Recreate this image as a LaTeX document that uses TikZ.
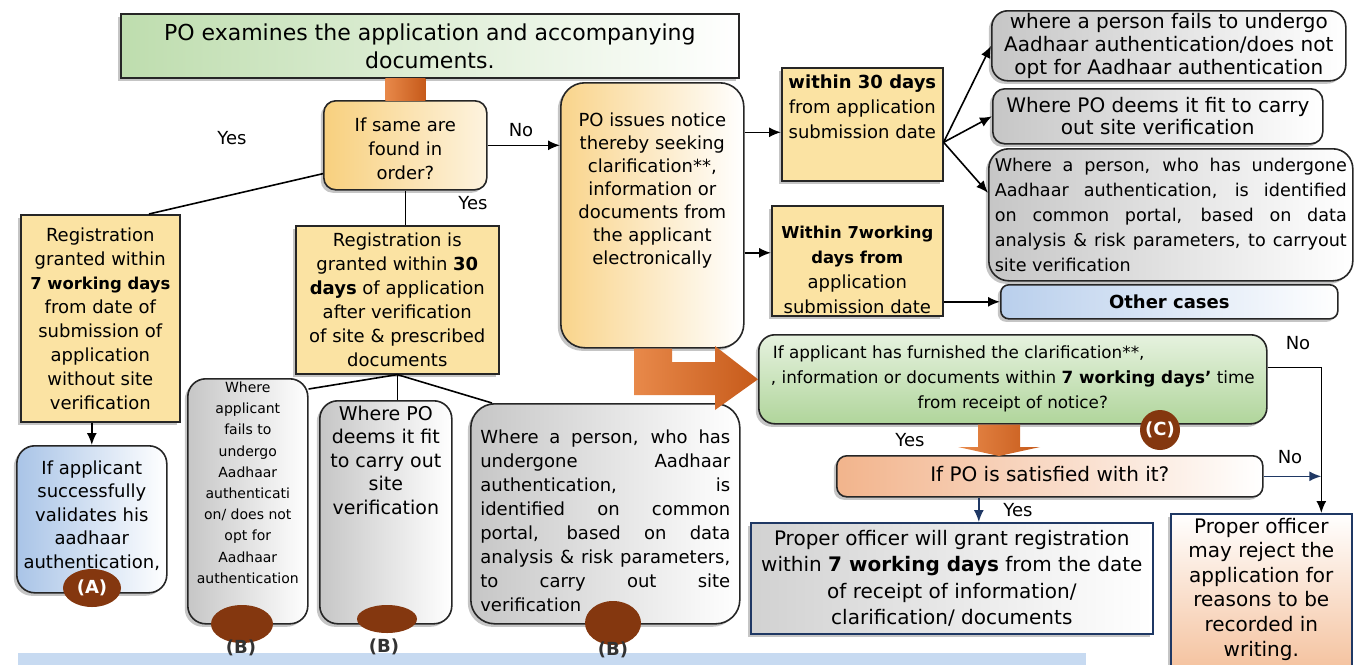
\documentclass[tikz,border=0pt]{standalone}
\usepackage{fontspec}
\setmainfont{DejaVu Sans}
\usetikzlibrary{arrows.meta, positioning, shapes.geometric, shadows}
\definecolor{boxyellow}{HTML}{FBE3A3}
\definecolor{poorange}{HTML}{F9D48B}
\definecolor{ifyellow}{HTML}{F8D07E}
\definecolor{titlegreen}{HTML}{BEDDAE}
\definecolor{greentop}{HTML}{E6F2DF}
\definecolor{greenbot}{HTML}{B0D59B}
\definecolor{valblue}{HTML}{A9C4E7}
\definecolor{otherblue}{HTML}{B9CFEC}
\definecolor{satpeach}{HTML}{F2B48C}
\definecolor{rejpeach}{HTML}{F4BE98}
\definecolor{boxgray}{HTML}{C6C6C6}
\definecolor{blobbrown}{HTML}{84370F}
\definecolor{blkorange}{HTML}{E8894A}
\definecolor{blkdark}{HTML}{C65A1A}
\definecolor{barblue}{HTML}{C7DAF1}
\definecolor{navy}{HTML}{1F3864}

% top aligned text: width, height, top pad, text
\newcommand{\tb}[4]{\parbox[c][#2][t]{#1}{\centering\vspace*{#3}#4}}
\newcommand{\bt}[1]{\textbf{#1}}
\newcommand{\bts}[1]{{\bfseries\fontsize{8.2}{12}\selectfont #1}}
\newcommand{\js}[1]{\makebox[\linewidth][s]{#1}}

\begin{document}
\begin{tikzpicture}[x=0.5pt, y=-0.5pt,
  box/.style={draw=black!85, line width=0.8pt, inner sep=0pt, anchor=north west, align=center,
    font=\fontsize{9}{12}\selectfont,
    drop shadow={shadow xshift=-1.5pt, shadow yshift=-1.5pt, fill=black!45}},
  rbox/.style={box, rounded corners=#1}, rbox/.default=8pt,
  yel/.style={fill=boxyellow},
  grayshade/.style={left color=boxgray, right color=white},
  conn/.style={line width=0.8pt},
  arr/.style={conn, -{Latex[length=6pt, width=5pt]}},
  bluearr/.style={conn, draw=navy, -{Latex[length=6pt, width=5pt]}},
  blk/.style={left color=blkorange, right color=blkdark},
  blob/.style={ellipse, fill=blobbrown, inner sep=0pt, text=white, font=\bfseries\fontsize{9}{10}\selectfont},
  tag/.style={font=\bfseries\fontsize{9}{10}\selectfont, text=black!80},
  yn/.style={font=\fontsize{9}{10}\selectfont}
]
\useasboundingbox (0,0) rectangle (1363,664);

\fill[barblue] (18,653) rectangle (1086,700); % bottom band

% top row
\node[box, left color=titlegreen, right color=white, minimum width=309pt, minimum height=32pt,
  font=\fontsize{11}{14}\selectfont] (title) at (120,13)
  {PO examines the application and accompanying\\documents.};
\node[rbox=6pt, left color=ifyellow, right color=ifyellow!25, font=\fontsize{9}{12}\selectfont] (ifsame) at (323,100)
  {\tb{81.5pt}{44.5pt}{8.5pt}{If same are\\found in\\order?}};
\node[rbox=12pt, left color=poorange, right color=white, font=\fontsize{9}{11.5}\selectfont] (po) at (560,82)
  {\tb{91.5pt}{132.5pt}{15pt}{PO issues notice\\thereby seeking\\clarification**,\\information or\\documents from\\the applicant\\electronically}};
\node[box, yel, font=\fontsize{9}{12.5}\selectfont] (w30) at (781,67)
  {\tb{80.5pt}{56.5pt}{3.5pt}{\bt{within 30 days}\\from application\\submission date}};
\node[box, yel, font=\fontsize{9}{12.5}\selectfont] (w7) at (771,205)
  {\tb{85.5pt}{55pt}{10pt}{\bts{Within 7working}\\\bts{days from}\\application\\submission date}};

% right column
\node[rbox=8pt, grayshade, minimum width=177pt, minimum height=35pt, font=\fontsize{10}{11.5}\selectfont] (gray1) at (991,10)
  {where a person fails to undergo\\Aadhaar authentication/does not\\opt for Aadhaar authentication};
\node[rbox=6pt, grayshade, minimum width=165pt, minimum height=27.5pt, font=\fontsize{10}{11}\selectfont] (gray2) at (992,88)
  {Where PO deems it fit to carry\\out site verification};
\node[rbox=10pt, grayshade, minimum width=182pt, minimum height=66pt] (gray3) at (988,148)
  {\parbox{176pt}{\fontsize{8.8}{12.5}\selectfont
   \js{Where a person, who has undergone}\\
   \js{Aadhaar authentication, is identified}\\
   \js{on common portal, based on data}\\
   \js{analysis \& risk parameters, to carryout}\\
   site verification}};
\node[rbox=4pt, left color=otherblue, right color=white, minimum width=168.5pt, minimum height=17pt,
  font=\bfseries\fontsize{9}{11}\selectfont] (other) at (1000,284) {Other cases};

% left column
\node[box, yel, minimum width=79.5pt, minimum height=103.5pt] (regA) at (20,214)
  {Registration\\granted within\\\bts{7 working days}\\from date of\\submission of\\application\\without site\\verification};
\node[rbox=9pt, left color=valblue, right color=white, font=\fontsize{9}{11.75}\selectfont] (valA) at (16,445)
  {\tb{75pt}{73.5pt}{7.5pt}{If applicant\\successfully\\validates his\\aadhaar\\authentication,}};
\node[box, yel, minimum width=101.5pt, minimum height=74pt] (regB) at (295,225)
  {Registration is\\granted within \bt{30}\\\bt{days} of application\\after verification\\of site \& prescribed\\documents};
\node[rbox=9pt, grayshade, font=\fontsize{7}{10.6}\selectfont] (b1) at (187,378)
  {\tb{60pt}{122.5pt}{1.5pt}{Where\\applicant\\fails to\\undergo\\Aadhaar\\authenticati\\on/ does not\\opt for\\Aadhaar\\authentication}};
\node[rbox=9pt, grayshade, font=\fontsize{9.5}{11.75}\selectfont] (b2) at (319,400)
  {\tb{66pt}{111.5pt}{2.5pt}{Where PO\\deems it fit\\to carry out\\site\\verification}};
\node[rbox=12pt, grayshade, minimum width=134.5pt] (b3) at (470,403)
  {\parbox[c][110pt][t]{125pt}{\vspace*{13pt}%
   \js{Where a person, who has}\\
   \js{undergone Aadhaar}\\
   \js{authentication, is}\\
   \js{identified on common}\\
   \js{portal, based on data}\\
   \js{analysis \& risk parameters,}\\
   \js{to carry out site}\\
   verification}};

% lower right
\node[rbox=8pt, top color=greentop, bottom color=greenbot, minimum width=254pt, minimum height=44.5pt,
  font=\fontsize{8.4}{12.5}\selectfont] (green) at (758,334)
  {\parbox{250pt}{\centering\makebox[\linewidth][l]{\hspace{5pt}If applicant has furnished the clarification**,}\\
   , information or documents within \bt{7 working days'} time\\from receipt of notice?}};
\node[rbox=5pt, left color=satpeach, right color=white, minimum width=213pt, minimum height=20.5pt,
  font=\fontsize{10}{11}\selectfont] (sat) at (836,455) {\raisebox{2pt}{If PO is satisfied with it?}};
\node[box, draw=navy, left color=boxgray!80, right color=white, minimum width=201pt, minimum height=55.5pt,
  font=\fontsize{10}{13.25}\selectfont] (grant) at (750,522)
  {Proper officer will grant registration\\within \bt{7 working days} from the date\\of receipt of information/\\clarification/ documents};
\node[box, draw=navy, top color=white, bottom color=rejpeach, font=\fontsize{10}{12.3}\selectfont] (reject) at (1170,513)
  {\tb{90.5pt}{83.5pt}{2pt}{Proper officer\\may reject the\\application for\\reasons to be\\recorded in\\writing.}};

% block arrows
\shade[blk] ([xshift=-10pt]ifsame.north) rectangle ([xshift=10pt]ifsame.north |- title.south);
\shade[blk] (po.south -| 634,0) -- (634,395) -- (715,395) -- (715,410) -- (green.west)
  -- (715,346) -- (715,362) -- (672,362) -- (po.south -| 672,0) -- cycle;
\shade[blk] (green.south -| 978,0) -- (978,447) -- (958,447) -- (999,456) -- (1040,447)
  -- (1020,447) -- (green.south -| 1020,0) -- cycle;

% connectors
\draw[conn] (ifsame.199) -- (regA.65);
\draw[arr] (ifsame.east) -- (ifsame.east -| po.west);
\draw[conn] (ifsame.south) -- (ifsame.south |- regB.north);
\draw[arr] (valA.north |- regA.south) -- (valA.north);
\draw[conn] (regB.south) -- ([yshift=-5.5pt]b1.north east);
\draw[conn] (regB.south) -- (regB.south |- b2.north);
\draw[conn] (regB.south) -- ([xshift=11pt]b3.north west);
\draw[arr] ([yshift=-4pt]w30.west -| po.east) -- ([yshift=-4pt]w30.west);
\draw[arr] ([yshift=4pt]w7.west -| po.east) -- ([yshift=4pt]w7.west);
\coordinate (fork) at ([yshift=-9pt]w30.east);
\draw[arr] (fork) -- (gray1.west);
\draw[arr] (fork) -- (gray2.west);
\draw[arr] (fork) -- ([yshift=11pt]gray3.west);
\draw[arr] (w7.east |- other.west) -- (other.west);
\coordinate (nodrop) at ([xshift=30pt]reject.north);
\draw[arr] ([yshift=6pt]green.east) -| (nodrop);
\draw[bluearr] (sat.east) -- (sat.east -| nodrop);
\draw[bluearr] ([xshift=-35.5pt]sat.south) -- ([xshift=-35.5pt]sat.south |- grant.north);

% yes / no
\node[yn] (yes1) at (232,138) {Yes};
\node[yn] (no1) at (521,130) {No};
\node[yn] (yes2) at (473,203) {Yes};
\node[yn] (no2) at (1298,343) {No};
\node[yn] (yes3) at (910,440) {Yes};
\node[yn] (no3) at (1290,457) {No};
\node[yn] (yes4) at (1018,510) {Yes};

% markers
\node[blob, minimum width=29pt, minimum height=19pt] (blobA) at (92,588) {\raisebox{-3pt}{(A)}};
\node[blob, minimum width=31pt, minimum height=19pt] (blobB1) at (242,624) {};
\node[blob, minimum width=30pt, minimum height=14pt] (blobB2) at (387,619) {};
\node[blob, minimum width=28pt, minimum height=22pt] (blobB3) at (613,623) {};
\node[tag] (tagB1) at (241,648) {(B)};
\node[tag] (tagB2) at (384,647) {(B)};
\node[tag] (tagB3) at (613,650) {(B)};
\node[blob, circle, minimum size=20pt] (blobC) at (1160,430) {(C)};
\end{tikzpicture}
\end{document}
